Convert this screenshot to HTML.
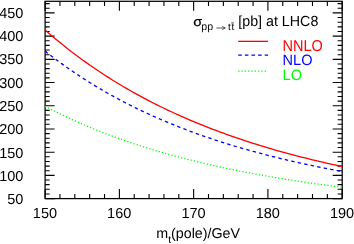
<!DOCTYPE html><html><head><meta charset="utf-8"><style>html,body{margin:0;padding:0;background:#fff;}svg{display:block;}svg{will-change:transform;}text{text-rendering:geometricPrecision;font-family:"Liberation Sans",sans-serif;}</style></head><body>
<svg width="354" height="244" viewBox="0 0 354 244">
<rect width="354" height="244" fill="#fff"/>
<path d="M45.10 198.60h9.5M342.20 198.60h-9.5M45.10 193.96h4.6M342.20 193.96h-4.6M45.10 189.32h4.6M342.20 189.32h-4.6M45.10 184.67h4.6M342.20 184.67h-4.6M45.10 180.03h4.6M342.20 180.03h-4.6M45.10 175.39h9.5M342.20 175.39h-9.5M45.10 170.75h4.6M342.20 170.75h-4.6M45.10 166.10h4.6M342.20 166.10h-4.6M45.10 161.46h4.6M342.20 161.46h-4.6M45.10 156.82h4.6M342.20 156.82h-4.6M45.10 152.18h9.5M342.20 152.18h-9.5M45.10 147.53h4.6M342.20 147.53h-4.6M45.10 142.89h4.6M342.20 142.89h-4.6M45.10 138.25h4.6M342.20 138.25h-4.6M45.10 133.61h4.6M342.20 133.61h-4.6M45.10 128.96h9.5M342.20 128.96h-9.5M45.10 124.32h4.6M342.20 124.32h-4.6M45.10 119.68h4.6M342.20 119.68h-4.6M45.10 115.04h4.6M342.20 115.04h-4.6M45.10 110.40h4.6M342.20 110.40h-4.6M45.10 105.75h9.5M342.20 105.75h-9.5M45.10 101.11h4.6M342.20 101.11h-4.6M45.10 96.47h4.6M342.20 96.47h-4.6M45.10 91.83h4.6M342.20 91.83h-4.6M45.10 87.18h4.6M342.20 87.18h-4.6M45.10 82.54h9.5M342.20 82.54h-9.5M45.10 77.90h4.6M342.20 77.90h-4.6M45.10 73.26h4.6M342.20 73.26h-4.6M45.10 68.61h4.6M342.20 68.61h-4.6M45.10 63.97h4.6M342.20 63.97h-4.6M45.10 59.33h9.5M342.20 59.33h-9.5M45.10 54.69h4.6M342.20 54.69h-4.6M45.10 50.04h4.6M342.20 50.04h-4.6M45.10 45.40h4.6M342.20 45.40h-4.6M45.10 40.76h4.6M342.20 40.76h-4.6M45.10 36.12h9.5M342.20 36.12h-9.5M45.10 31.48h4.6M342.20 31.48h-4.6M45.10 26.83h4.6M342.20 26.83h-4.6M45.10 22.19h4.6M342.20 22.19h-4.6M45.10 17.55h4.6M342.20 17.55h-4.6M45.10 12.91h9.5M342.20 12.91h-9.5M45.10 8.26h4.6M342.20 8.26h-4.6M45.10 3.62h4.6M342.20 3.62h-4.6M45.10 198.60v-9.5M45.10 1.30v9.5M59.95 198.60v-4.6M59.95 1.30v4.6M74.81 198.60v-4.6M74.81 1.30v4.6M89.66 198.60v-4.6M89.66 1.30v4.6M104.52 198.60v-4.6M104.52 1.30v4.6M119.38 198.60v-9.5M119.38 1.30v9.5M134.23 198.60v-4.6M134.23 1.30v4.6M149.08 198.60v-4.6M149.08 1.30v4.6M163.94 198.60v-4.6M163.94 1.30v4.6M178.79 198.60v-4.6M178.79 1.30v4.6M193.65 198.60v-9.5M193.65 1.30v9.5M208.50 198.60v-4.6M208.50 1.30v4.6M223.36 198.60v-4.6M223.36 1.30v4.6M238.21 198.60v-4.6M238.21 1.30v4.6M253.07 198.60v-4.6M253.07 1.30v4.6M267.92 198.60v-9.5M267.92 1.30v9.5M282.78 198.60v-4.6M282.78 1.30v4.6M297.63 198.60v-4.6M297.63 1.30v4.6M312.49 198.60v-4.6M312.49 1.30v4.6M327.35 198.60v-4.6M327.35 1.30v4.6M342.20 198.60v-9.5M342.20 1.30v9.5" stroke="#000" stroke-width="1.1" fill="none"/>
<rect x="45.1" y="1.3" width="297.10" height="197.30" fill="none" stroke="#000" stroke-width="1.25"/>
<path d="M45.10,30.08 L48.81,33.31 L52.53,36.47 L56.24,39.58 L59.95,42.62 L63.67,45.61 L67.38,48.54 L71.10,51.42 L74.81,54.24 L78.52,57.00 L82.24,59.72 L85.95,62.38 L89.66,65.00 L93.38,67.56 L97.09,70.08 L100.81,72.55 L104.52,74.98 L108.23,77.36 L111.95,79.70 L115.66,81.99 L119.38,84.24 L123.09,86.45 L126.80,88.62 L130.52,90.75 L134.23,92.84 L137.94,94.89 L141.66,96.91 L145.37,98.89 L149.08,100.83 L152.80,102.74 L156.51,104.61 L160.23,106.46 L163.94,108.26 L167.65,110.04 L171.37,111.78 L175.08,113.50 L178.79,115.18 L182.51,116.83 L186.22,118.46 L189.94,120.05 L193.65,121.62 L197.36,123.16 L201.08,124.67 L204.79,126.16 L208.50,127.62 L212.22,129.05 L215.93,130.46 L219.65,131.85 L223.36,133.21 L227.07,134.55 L230.79,135.86 L234.50,137.16 L238.21,138.43 L241.93,139.68 L245.64,140.91 L249.36,142.11 L253.07,143.30 L256.78,144.47 L260.50,145.61 L264.21,146.74 L267.92,147.85 L271.64,148.94 L275.35,150.01 L279.07,151.06 L282.78,152.10 L286.49,153.12 L290.21,154.12 L293.92,155.11 L297.63,156.08 L301.35,157.03 L305.06,157.97 L308.78,158.89 L312.49,159.79 L316.20,160.69 L319.92,161.56 L323.63,162.43 L327.35,163.28 L331.06,164.11 L334.77,164.93 L338.49,165.74 L342.20,166.54" stroke="#ff0000" stroke-width="1.3" fill="none"/>
<path d="M45.10,51.08 L45.77,51.61 L46.44,52.13 L47.11,52.66 L47.77,53.19 L47.85,53.24M50.37,55.21 L51.04,55.72 L51.71,56.23 L52.38,56.74 L53.05,57.25M55.65,59.22 L56.32,59.72 L56.98,60.21 L57.65,60.71 L58.32,61.20 L58.40,61.26M60.99,63.17 L61.66,63.65 L62.33,64.13 L63.00,64.62 L63.67,65.10 L63.74,65.15M66.34,67.00 L67.01,67.47 L67.68,67.94 L68.35,68.41 L69.02,68.88 L69.17,68.98M71.76,70.78 L72.43,71.23 L73.10,71.69 L73.77,72.14 L74.44,72.60 L74.59,72.70M77.26,74.49 L77.93,74.94 L78.60,75.38 L79.27,75.82 L79.93,76.26 L80.16,76.40M82.83,78.15 L83.50,78.58 L84.17,79.01 L84.84,79.43 L85.51,79.86 L85.73,80.00M88.40,81.69 L89.07,82.11 L89.74,82.53 L90.41,82.94 L91.08,83.36 L91.30,83.49M94.05,85.18 L94.79,85.63 L95.53,86.08 L96.28,86.53 L97.02,86.97M99.77,88.61 L100.43,89.00 L101.10,89.39 L101.77,89.78 L102.44,90.17 L102.66,90.30M105.49,91.93 L106.23,92.36 L106.97,92.78 L107.71,93.20 L108.46,93.62M111.28,95.20 L112.02,95.61 L112.76,96.02 L113.51,96.43 L114.25,96.84M117.07,98.37 L117.82,98.77 L118.56,99.17 L119.30,99.56 L120.04,99.96 L120.12,100.00M122.94,101.48 L123.68,101.87 L124.43,102.26 L125.17,102.64 L125.91,103.02 L125.99,103.06M128.81,104.50 L129.55,104.88 L130.29,105.25 L131.04,105.63 L131.78,106.00 L131.85,106.03M134.75,107.47 L135.49,107.83 L136.24,108.20 L136.98,108.56 L137.72,108.92 L137.80,108.95M140.69,110.35 L141.43,110.70 L142.18,111.05 L142.92,111.40 L143.66,111.75 L143.81,111.82M146.71,113.17 L147.45,113.51 L148.19,113.85 L148.94,114.19 L149.68,114.53 L149.83,114.60M152.72,115.91 L153.47,116.24 L154.21,116.57 L154.95,116.90 L155.70,117.23 L155.84,117.30M158.82,118.60 L159.56,118.92 L160.30,119.24 L161.04,119.56 L161.79,119.88 L161.93,119.95M164.91,121.21 L165.65,121.52 L166.39,121.83 L167.13,122.14 L167.88,122.45 L168.10,122.54M171.07,123.77 L171.81,124.07 L172.56,124.37 L173.30,124.67 L174.04,124.97 L174.19,125.03M177.16,126.22 L177.90,126.51 L178.65,126.81 L179.39,127.10 L180.13,127.39 L180.35,127.48M183.40,128.66 L184.14,128.94 L184.89,129.23 L185.63,129.51 L186.37,129.79 L186.59,129.88M189.56,130.99 L190.31,131.27 L191.05,131.54 L191.79,131.82 L192.54,132.09 L192.76,132.18M195.80,133.29 L196.55,133.55 L197.29,133.82 L198.03,134.09 L198.77,134.35 L199.00,134.43M202.04,135.51 L202.79,135.77 L203.53,136.03 L204.27,136.29 L205.01,136.54 L205.24,136.62M208.28,137.67 L209.10,137.94 L209.92,138.22 L210.73,138.49 L211.55,138.77M214.60,139.78 L215.41,140.05 L216.23,140.32 L217.05,140.59 L217.86,140.85M220.91,141.84 L221.73,142.10 L222.54,142.36 L223.36,142.62 L224.18,142.87M227.22,143.83 L228.04,144.08 L228.86,144.33 L229.67,144.59 L230.49,144.84M233.54,145.76 L234.35,146.01 L235.17,146.25 L235.99,146.50 L236.80,146.74M239.92,147.66 L240.74,147.90 L241.56,148.13 L242.37,148.37 L243.19,148.61M246.31,149.50 L247.13,149.73 L247.95,149.96 L248.76,150.19 L249.58,150.42M252.62,151.27 L253.44,151.49 L254.26,151.71 L255.08,151.94 L255.89,152.16 L255.97,152.18M259.09,153.02 L259.90,153.24 L260.72,153.46 L261.54,153.67 L262.35,153.89M265.47,154.70 L266.29,154.92 L267.11,155.13 L267.92,155.34 L268.74,155.55 L268.82,155.56M271.86,156.34 L272.68,156.54 L273.50,156.75 L274.31,156.95 L275.13,157.16 L275.20,157.17M278.32,157.94 L279.14,158.14 L279.96,158.34 L280.77,158.54 L281.59,158.74 L281.67,158.75M284.79,159.50 L285.60,159.69 L286.42,159.89 L287.24,160.08 L288.05,160.27 L288.13,160.29M291.25,161.01 L292.06,161.20 L292.88,161.39 L293.70,161.58 L294.52,161.76 L294.59,161.78M297.71,162.48 L298.53,162.66 L299.34,162.85 L300.16,163.03 L300.98,163.21 L301.05,163.23M304.17,163.91 L304.99,164.09 L305.81,164.26 L306.62,164.44 L307.44,164.61 L307.51,164.63M310.63,165.29 L311.45,165.47 L312.27,165.64 L313.08,165.81 L313.90,165.98 L313.98,166.00M317.17,166.66 L317.99,166.82 L318.80,166.99 L319.62,167.16 L320.44,167.32 L320.51,167.34M323.63,167.96 L324.45,168.13 L325.27,168.29 L326.08,168.45 L326.90,168.61 L326.97,168.62M330.17,169.25 L330.98,169.41 L331.80,169.56 L332.62,169.72 L333.44,169.88 L333.51,169.89M336.63,170.48 L337.45,170.64 L338.26,170.79 L339.08,170.94 L339.90,171.09 L340.05,171.12" stroke="#0000ff" stroke-width="1.3" fill="none"/>
<path d="M45.10,106.22 L45.32,106.34 L45.55,106.45 L45.77,106.57 L45.99,106.69 L46.21,106.81M48.07,107.78 L48.29,107.90 L48.52,108.01 L48.74,108.13 L48.96,108.24 L49.11,108.32M51.04,109.32 L51.26,109.43 L51.49,109.55 L51.71,109.66 L51.93,109.77 L52.08,109.85M53.94,110.79 L54.16,110.90 L54.38,111.02 L54.61,111.13 L54.83,111.24 L55.05,111.35M56.91,112.28 L57.13,112.39 L57.36,112.50 L57.58,112.61 L57.80,112.72 L58.02,112.83M59.88,113.75 L60.10,113.85 L60.33,113.96 L60.55,114.07 L60.77,114.18 L60.99,114.29M62.85,115.19 L63.07,115.29 L63.30,115.40 L63.52,115.51 L63.74,115.62 L63.97,115.72M65.82,116.61 L66.05,116.71 L66.27,116.82 L66.49,116.92 L66.71,117.03 L66.94,117.13M68.87,118.04 L69.09,118.14 L69.31,118.24 L69.54,118.35 L69.76,118.45 L69.98,118.55M71.84,119.41 L72.06,119.51 L72.28,119.61 L72.51,119.72 L72.73,119.82 L72.95,119.92M74.88,120.80 L75.11,120.90 L75.33,121.00 L75.55,121.10 L75.78,121.20 L76.00,121.30M77.86,122.13 L78.08,122.23 L78.30,122.32 L78.52,122.42 L78.75,122.52 L78.97,122.62M80.90,123.47 L81.12,123.57 L81.35,123.66 L81.57,123.76 L81.79,123.86 L82.01,123.95M83.95,124.79 L84.17,124.88 L84.39,124.98 L84.61,125.07 L84.84,125.17 L85.06,125.27M86.99,126.09 L87.21,126.18 L87.44,126.28 L87.66,126.37 L87.88,126.46 L88.11,126.56M90.04,127.37 L90.26,127.46 L90.48,127.55 L90.70,127.64 L90.93,127.74 L91.15,127.83M93.08,128.62 L93.30,128.71 L93.53,128.81 L93.75,128.90 L93.97,128.99 L94.20,129.08M96.20,129.89 L96.42,129.98 L96.65,130.07 L96.87,130.16 L97.09,130.25 L97.32,130.34M99.25,131.11 L99.47,131.20 L99.69,131.29 L99.91,131.37 L100.14,131.46 L100.36,131.55M102.29,132.31 L102.59,132.42 L102.89,132.54 L103.18,132.65 L103.48,132.77M105.41,133.52 L105.63,133.60 L105.86,133.69 L106.08,133.77 L106.30,133.86 L106.53,133.94M108.53,134.70 L108.75,134.79 L108.98,134.87 L109.20,134.96 L109.42,135.04 L109.64,135.12M111.58,135.85 L111.87,135.96 L112.17,136.07 L112.47,136.18 L112.76,136.29M114.70,137.00 L114.99,137.11 L115.29,137.22 L115.59,137.32 L115.88,137.43M117.82,138.13 L118.11,138.24 L118.41,138.34 L118.71,138.45 L119.00,138.56M120.93,139.25 L121.16,139.32 L121.38,139.40 L121.60,139.48 L121.83,139.56 L122.05,139.64M124.05,140.34 L124.35,140.45 L124.65,140.55 L124.95,140.65 L125.24,140.76M127.17,141.42 L127.47,141.53 L127.77,141.63 L128.07,141.73 L128.36,141.83M130.29,142.49 L130.59,142.59 L130.89,142.69 L131.18,142.79 L131.48,142.89M133.49,143.56 L133.71,143.63 L133.93,143.70 L134.16,143.78 L134.38,143.85 L134.60,143.93M136.61,144.59 L136.90,144.68 L137.20,144.78 L137.50,144.88 L137.80,144.97M139.73,145.60 L140.02,145.69 L140.32,145.79 L140.62,145.89 L140.91,145.98M142.92,146.62 L143.14,146.69 L143.37,146.76 L143.59,146.83 L143.81,146.90 L144.03,146.97M146.04,147.60 L146.34,147.69 L146.63,147.79 L146.93,147.88 L147.23,147.97M149.23,148.59 L149.53,148.68 L149.83,148.77 L150.12,148.86 L150.42,148.95M152.35,149.54 L152.65,149.63 L152.95,149.72 L153.24,149.81 L153.54,149.90M155.55,150.50 L155.84,150.59 L156.14,150.68 L156.44,150.76 L156.74,150.85M158.74,151.44 L159.04,151.53 L159.33,151.62 L159.63,151.70 L159.93,151.79M161.93,152.37 L162.16,152.43 L162.38,152.50 L162.60,152.56 L162.83,152.63 L163.05,152.69M165.13,153.28 L165.35,153.35 L165.57,153.41 L165.80,153.47 L166.02,153.54 L166.24,153.60M168.25,154.16 L168.55,154.24 L168.84,154.33 L169.14,154.41 L169.44,154.49M171.44,155.05 L171.74,155.13 L172.04,155.21 L172.33,155.29 L172.63,155.37M174.64,155.92 L174.93,156.00 L175.23,156.08 L175.53,156.16 L175.82,156.24M177.83,156.78 L178.13,156.86 L178.42,156.93 L178.72,157.01 L179.02,157.09M181.02,157.62 L181.32,157.70 L181.62,157.78 L181.91,157.85 L182.21,157.93M184.29,158.47 L184.59,158.55 L184.89,158.62 L185.18,158.70 L185.48,158.78M187.49,159.29 L187.78,159.37 L188.08,159.44 L188.38,159.52 L188.67,159.59M190.68,160.10 L190.98,160.17 L191.27,160.24 L191.57,160.32 L191.87,160.39M193.87,160.89 L194.17,160.96 L194.47,161.04 L194.76,161.11 L195.06,161.18M197.07,161.67 L197.36,161.74 L197.66,161.81 L197.96,161.89 L198.26,161.96 L198.33,161.98M200.33,162.46 L200.63,162.53 L200.93,162.60 L201.23,162.67 L201.52,162.74M203.53,163.21 L203.83,163.28 L204.12,163.35 L204.42,163.42 L204.72,163.49M206.80,163.98 L207.09,164.05 L207.39,164.12 L207.69,164.18 L207.99,164.25M209.99,164.71 L210.29,164.78 L210.58,164.85 L210.88,164.91 L211.18,164.98M213.18,165.44 L213.48,165.50 L213.78,165.57 L214.08,165.63 L214.37,165.70 L214.45,165.72M216.45,166.16 L216.75,166.23 L217.05,166.29 L217.34,166.36 L217.64,166.43M219.65,166.86 L219.94,166.93 L220.24,166.99 L220.54,167.06 L220.83,167.12 L220.91,167.14M222.91,167.57 L223.21,167.64 L223.51,167.70 L223.81,167.76 L224.10,167.83M226.18,168.27 L226.48,168.33 L226.78,168.39 L227.07,168.46 L227.37,168.52M229.38,168.94 L229.67,169.00 L229.97,169.06 L230.27,169.12 L230.56,169.18M232.64,169.61 L232.94,169.67 L233.24,169.73 L233.54,169.79 L233.83,169.85M235.91,170.28 L236.21,170.34 L236.51,170.40 L236.80,170.46 L237.10,170.52M239.11,170.92 L239.40,170.98 L239.70,171.03 L240.00,171.09 L240.29,171.15M242.37,171.56 L242.67,171.62 L242.97,171.68 L243.27,171.73 L243.56,171.79M245.64,172.20 L245.94,172.25 L246.24,172.31 L246.53,172.37 L246.83,172.42M248.91,172.82 L249.21,172.88 L249.50,172.93 L249.80,172.99 L250.10,173.05M252.10,173.42 L252.40,173.48 L252.70,173.53 L253.00,173.59 L253.29,173.65M255.37,174.03 L255.67,174.09 L255.97,174.14 L256.26,174.19 L256.56,174.25M258.64,174.63 L258.94,174.68 L259.23,174.74 L259.53,174.79 L259.83,174.84M261.91,175.22 L262.21,175.27 L262.50,175.32 L262.80,175.38 L263.10,175.43M265.18,175.80 L265.47,175.85 L265.77,175.90 L266.07,175.95 L266.37,176.01M268.44,176.37 L268.74,176.42 L269.04,176.47 L269.34,176.52 L269.63,176.58M271.64,176.92 L271.94,176.97 L272.23,177.02 L272.53,177.07 L272.83,177.12 L272.90,177.14M274.91,177.48 L275.20,177.53 L275.50,177.58 L275.80,177.63 L276.10,177.67 L276.17,177.69M278.17,178.02 L278.47,178.07 L278.77,178.12 L279.07,178.17 L279.36,178.22 L279.44,178.23M281.44,178.56 L281.74,178.61 L282.04,178.66 L282.33,178.71 L282.63,178.75 L282.71,178.77M284.71,179.09 L285.01,179.14 L285.31,179.19 L285.60,179.24 L285.90,179.28 L285.97,179.29M287.98,179.61 L288.28,179.66 L288.57,179.71 L288.87,179.76 L289.17,179.80 L289.24,179.81M291.25,180.13 L291.54,180.18 L291.84,180.22 L292.14,180.27 L292.44,180.32 L292.51,180.33M294.52,180.64 L294.81,180.68 L295.11,180.73 L295.41,180.78 L295.70,180.82 L295.78,180.83M297.78,181.14 L298.08,181.18 L298.38,181.23 L298.67,181.27 L298.97,181.32 L299.05,181.33M301.13,181.64 L301.42,181.69 L301.72,181.73 L302.02,181.78 L302.31,181.82M304.39,182.13 L304.69,182.17 L304.99,182.22 L305.29,182.26 L305.58,182.30M307.66,182.61 L307.96,182.65 L308.26,182.69 L308.55,182.74 L308.85,182.78M310.93,183.08 L311.23,183.12 L311.52,183.17 L311.82,183.21 L312.12,183.25M314.20,183.55 L314.50,183.59 L314.79,183.63 L315.09,183.67 L315.39,183.71M317.47,184.00 L317.76,184.05 L318.06,184.09 L318.36,184.13 L318.65,184.17M320.73,184.46 L321.03,184.50 L321.33,184.54 L321.63,184.58 L321.92,184.62 L322.00,184.63M324.00,184.90 L324.30,184.94 L324.60,184.98 L324.89,185.02 L325.19,185.06 L325.27,185.07M327.34,185.35 L327.64,185.39 L327.94,185.43 L328.24,185.47 L328.53,185.51M330.61,185.78 L330.91,185.82 L331.21,185.86 L331.50,185.90 L331.80,185.94M333.88,186.21 L334.18,186.25 L334.48,186.29 L334.77,186.33 L335.07,186.37M337.15,186.63 L337.45,186.67 L337.74,186.71 L338.04,186.75 L338.34,186.78M340.42,187.05 L340.71,187.08 L341.01,187.12 L341.31,187.16 L341.61,187.20 L341.68,187.21" stroke="#00ff00" stroke-width="1.3" fill="none"/>
<path d="M238.2 41.35H268" stroke="#ff0000" stroke-width="1.3"/>
<path d="M238.2 55.15H268" stroke="#0000ff" stroke-width="1.3" stroke-dasharray="3.6 3.03"/>
<path d="M238.2 71.1H268" stroke="#00ff00" stroke-width="1.3" stroke-dasharray="1.3 2.0"/>
<text transform="translate(282.6,50.7) scale(1,1.09)" font-size="14.5" fill="#ff0000">NNLO</text>
<text transform="translate(282.6,64.6) scale(1,1.03)" font-size="14.5" fill="#0000ff">NLO</text>
<text transform="translate(282.6,80.0) scale(1,1.04)" font-size="14.5" fill="#00ff00">LO</text>
<text x="23.4" y="204.10" font-size="14.5" text-anchor="end" fill="#000">50</text>
<text x="23.4" y="180.89" font-size="14.5" text-anchor="end" fill="#000">100</text>
<text x="23.4" y="157.68" font-size="14.5" text-anchor="end" fill="#000">150</text>
<text x="23.4" y="134.46" font-size="14.5" text-anchor="end" fill="#000">200</text>
<text x="23.4" y="111.25" font-size="14.5" text-anchor="end" fill="#000">250</text>
<text x="23.4" y="88.04" font-size="14.5" text-anchor="end" fill="#000">300</text>
<text x="23.4" y="64.43" font-size="14.5" text-anchor="end" fill="#000">350</text>
<text x="23.4" y="41.32" font-size="14.5" text-anchor="end" fill="#000">400</text>
<text x="23.4" y="18.41" font-size="14.5" text-anchor="end" fill="#000">450</text>
<text x="44.95" y="218.4" font-size="14.5" text-anchor="middle" fill="#000">150</text>
<text x="119.22" y="218.4" font-size="14.5" text-anchor="middle" fill="#000">160</text>
<text x="193.50" y="218.4" font-size="14.5" text-anchor="middle" fill="#000">170</text>
<text x="267.77" y="218.4" font-size="14.5" text-anchor="middle" fill="#000">180</text>
<text x="342.05" y="218.4" font-size="14.5" text-anchor="middle" fill="#000">190</text>
<text x="156.3" y="237.7" font-size="14.25" fill="#000">m<tspan font-size="10.5" dy="5.2">t</tspan><tspan dy="-5.2">(pole)/GeV</tspan></text>
<text transform="translate(193.3,26) scale(1,0.9)" font-size="14.5" fill="#000" stroke="#000" stroke-width="0.22">σ</text>
<text x="201.3" y="29.9" font-size="10.6" fill="#000">pp</text>
<path d="M216.4 28H224.6M222.2 25.9Q223.2 27.5 225.3 28Q223.2 28.5 222.2 30.1" stroke="#111" stroke-width="0.7" fill="none"/>
<text x="228.1" y="30.4" font-size="9.8" fill="#000">t</text>
<text x="231.4" y="30.4" font-size="9.8" fill="#000">t</text>
<path d="M231.3 22.9H233.9" stroke="#000" stroke-width="0.7" fill="none"/>
<text transform="translate(238.3,26) scale(1,1.03)" font-size="14.25" fill="#000">[pb] at LHC8</text>
</svg></body></html>
